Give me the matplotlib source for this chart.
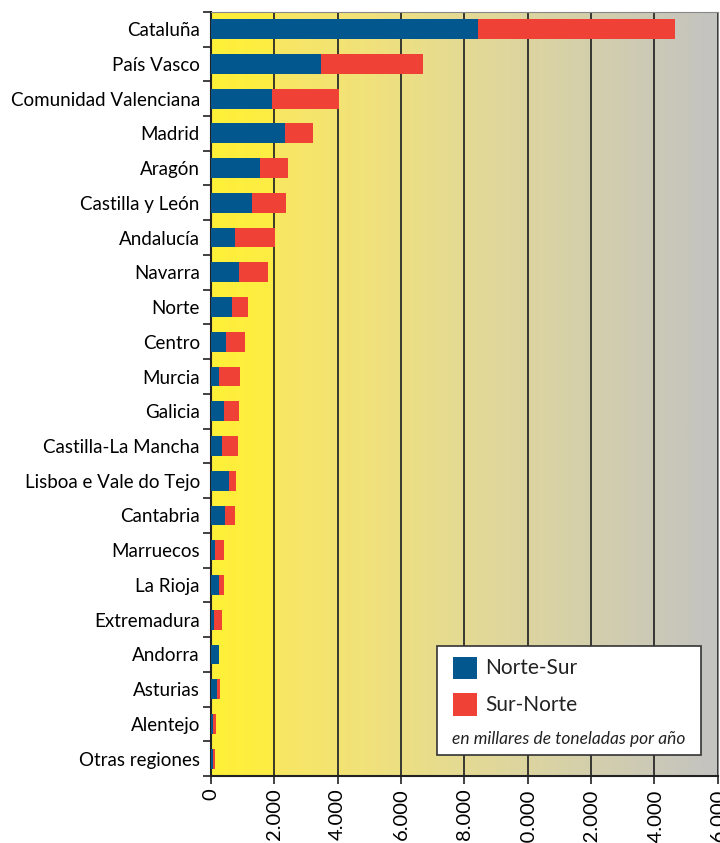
import numpy as np
import matplotlib
matplotlib.use("Agg")
import matplotlib.pyplot as plt
from matplotlib.colors import LinearSegmentedColormap
from matplotlib.patches import Rectangle
from matplotlib.ticker import FuncFormatter, MultipleLocator

# datos (miles de toneladas por año)
regiones = ["Cataluña", "País Vasco", "Comunidad Valenciana", "Madrid", "Aragón",
            "Castilla y León", "Andalucía", "Navarra", "Norte", "Centro", "Murcia",
            "Galicia", "Castilla-La Mancha", "Lisboa e Vale do Tejo", "Cantabria",
            "Marruecos", "La Rioja", "Extremadura", "Andorra", "Asturias",
            "Alentejo", "Otras regiones"]
norte_sur = [8420, 3470, 1920, 2330, 1550, 1290, 760, 880, 660, 470, 250,
             410, 340, 570, 440, 130, 250, 90, 250, 190, 60, 60]
sur_norte = [6220, 3220, 2120, 890, 880, 1080, 1270, 920, 510, 600, 660,
             470, 510, 220, 320, 280, 160, 260, 10, 90, 100, 70]

azul = "#02578f"
rojo = "#ef4136"

plt.rcParams['font.family'] = ['Lato', 'DejaVu Sans']

fig = plt.figure(figsize=(7.2, 8.43), dpi=100)
ax = fig.add_axes([0.293, 0.0795, 0.704, 0.9065])

y = np.arange(len(regiones))
ax.barh(y, norte_sur, height=0.57, color=azul, zorder=3)
ax.barh(y, sur_norte, left=norte_sur, height=0.57, color=rojo, zorder=3)

ax.set_xlim(0, 16000)
ax.set_ylim(len(regiones) - 0.5, -0.5)

# fondo degradado amarillo -> gris
fondo = LinearSegmentedColormap.from_list(
    "fondo", [(0.0, "#fff038"), (0.12, "#fdec44"), (0.13, "#f8e762"),
              (0.3, "#f1e27a"), (0.5, "#e4da94"), (0.75, "#d4cfac"), (1.0, "#c3c3c1")])
grad = np.linspace(0, 1, 512).reshape(1, -1)
ax.imshow(grad, cmap=fondo, aspect="auto", extent=[0, 16000, len(regiones) - 0.5, -0.5],
          zorder=0)

ax.xaxis.set_major_locator(MultipleLocator(2000))
ax.xaxis.set_major_formatter(FuncFormatter(lambda v, p: f"{int(v):,}".replace(",", ".")))
ax.grid(axis="x", color="#2a2a2a", linewidth=1.3, zorder=1)
ax.tick_params(axis="x", labelrotation=90, labelsize=14.5, length=6, width=1.3,
               color="#333333", pad=3)

ax.set_yticks(y)
ax.set_yticklabels(regiones, fontsize=13.5)
ax.set_yticks(np.arange(len(regiones) + 1) - 0.5, minor=True)
ax.tick_params(axis="y", which="major", length=0, pad=8)
ax.tick_params(axis="y", which="minor", length=6, width=1.3, color="#333333")

for s in ["top", "right"]:
    ax.spines[s].set_color("#888888")
    ax.spines[s].set_linewidth(0.8)
for s in ["left", "bottom"]:
    ax.spines[s].set_color("#222222")
    ax.spines[s].set_linewidth(1.5)

# leyenda
ax.add_patch(Rectangle((0.446, 0.0275), 0.52, 0.1425, transform=ax.transAxes,
                       facecolor="white", edgecolor="#333333", linewidth=1.2, zorder=5))
ax.add_patch(Rectangle((0.477, 0.127), 0.047, 0.029, transform=ax.transAxes,
                       facecolor=azul, edgecolor="none", zorder=6))
ax.add_patch(Rectangle((0.477, 0.079), 0.047, 0.029, transform=ax.transAxes,
                       facecolor=rojo, edgecolor="none", zorder=6))
ax.text(0.541, 0.1415, "Norte-Sur", transform=ax.transAxes, fontsize=15,
        va="center", ha="left", color="#222222", zorder=6)
ax.text(0.541, 0.0935, "Sur-Norte", transform=ax.transAxes, fontsize=15,
        va="center", ha="left", color="#222222", zorder=6)
ax.text(0.706, 0.049, "en millares de toneladas por año", transform=ax.transAxes,
        fontsize=12.5, style="italic", va="center", ha="center", color="#222222", zorder=6)

fig.savefig("out.png", dpi=100)
